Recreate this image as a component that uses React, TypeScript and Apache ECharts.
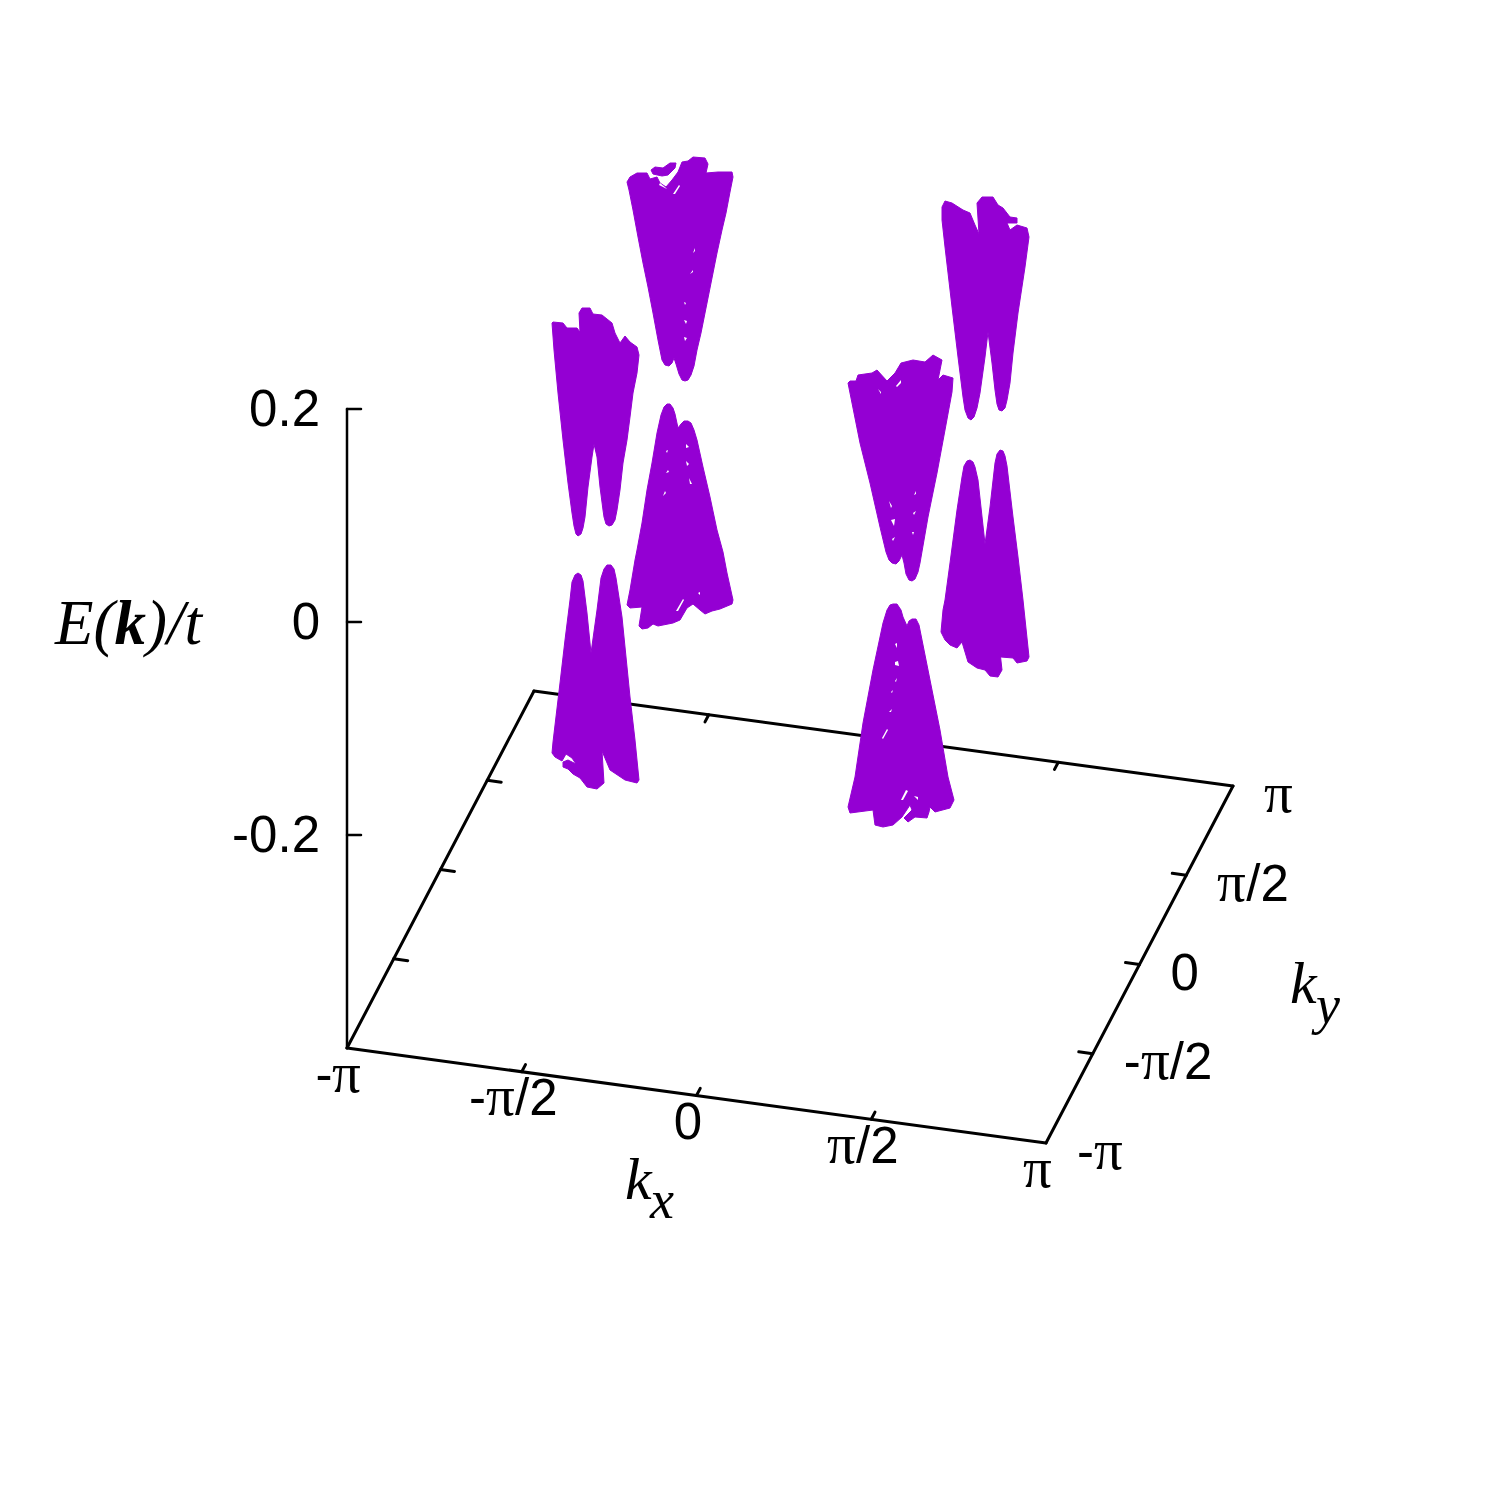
import React, { useEffect, useRef } from "react";
import * as echarts from "echarts";

type P = number[];
const PI = Math.PI;
const VIOLET = "#9400D3";

// Axis ticks
const kxTicks = [-PI, -PI / 2, 0, PI / 2, PI];
const kxTickLabels = ["-π", "-π/2", "0", "π/2", "π"];
const kyTicks = [-PI, -PI / 2, 0, PI / 2, PI];
const kyTickLabels = ["-π", "-π/2", "0", "π/2", "π"];
const eTicks = [-0.2, 0, 0.2];
const eTickLabels = ["-0.2", "0", "0.2"];
const eBase = -0.4;

// Silhouettes of the projected energy bands (projected plane units)
const coneAUpper: P[] = [[627,182],[630,177],[637,173],[647,173],[650,179],[657,177],[660,183],[666,187],[672,180],[678,172],[682,162],[688,161],[693,157],[705,158],[708,164],[706,173],[718,172],[732,172],[733,177],[730,192],[726,213],[722,230],[717,253],[713,273],[707,303],[701,333],[697,350],[694,366],[691,375],[688,380],[685,381],[682,380],[679,374],[676,364],[674,358],[672,363],[669,366],[665,365],[662,360],[660,350],[658,340],[653,313],[648,287],[643,263],[638,237],[633,210],[629,190]];
const coneAHook: P[] = [[651,170],[655,167],[663,168],[670,163],[676,163],[675,168],[668,175],[662,176],[653,174]];
const coneALower: P[] = [[637,550],[642,523],[647,490],[652,463],[657,433],[661,415],[664,407],[667,404],[670,404],[673,408],[675,414],[678,428],[681,424],[684,421],[688,421],[691,423],[694,430],[697,440],[703,467],[710,497],[717,530],[723,552],[727,573],[733,600],[732,604],[720,609],[712,611],[705,614],[700,610],[693,604],[687,608],[680,620],[673,623],[658,626],[653,624],[648,628],[642,629],[639,626],[642,607],[630,608],[627,605],[630,590],[635,560]];
const coneBUpper: P[] = [[552,323],[553,322],[563,323],[567,328],[577,328],[580,332],[579,313],[582,308],[590,308],[593,314],[602,315],[612,323],[615,333],[620,343],[625,336],[630,342],[637,347],[639,355],[637,373],[633,393],[630,417],[627,440],[623,463],[620,490],[617,510],[615,520],[612,525],[609,526],[606,524],[604,517],[603,510],[600,487],[597,457],[594,444],[592,457],[588,487],[585,517],[583,528],[581,534],[578,536],[576,534],[574,526],[572,513],[568,483],[563,440],[558,393],[554,350]];
const coneBLower: P[] = [[552,753],[553,742],[560,683],[565,640],[570,600],[572,582],[575,575],[578,573],[581,575],[583,581],[587,613],[591,653],[597,610],[601,578],[604,569],[607,565],[611,565],[614,569],[616,578],[622,617],[630,697],[635,740],[639,780],[637,783],[625,780],[610,770],[602,751],[604,783],[597,789],[587,787],[580,778],[573,774],[568,769],[563,767],[563,762],[568,760],[576,764],[572,758],[566,754],[562,761],[555,757]];
const coneCUpper: P[] = [[942,207],[945,201],[952,203],[963,210],[970,213],[975,225],[979,234],[977,203],[982,197],[993,197],[998,205],[1003,208],[1010,217],[1017,218],[1017,223],[1007,223],[1010,230],[1017,225],[1027,228],[1029,237],[1025,267],[1018,313],[1013,353],[1010,383],[1007,400],[1005,408],[1002,411],[999,410],[997,404],[995,390],[992,363],[988,332],[985,357],[980,393],[977,408],[974,417],[971,420],[968,418],[965,410],[963,397],[958,357],[952,307],[945,247],[942,220]];
const coneCLower: P[] = [[945,600],[950,563],[957,510],[962,477],[964,466],[967,461],[970,460],[973,462],[975,467],[978,480],[985,544],[990,507],[995,463],[997,454],[1000,450],[1003,451],[1005,456],[1007,466],[1013,517],[1018,557],[1023,600],[1029,657],[1027,661],[1017,663],[1013,658],[1001,657],[1000,652],[1002,670],[998,677],[990,676],[985,670],[977,668],[968,662],[962,642],[957,648],[950,645],[945,640],[941,632],[943,610]];
const coneDUpper: P[] = [[848,383],[850,381],[856,381],[858,375],[872,373],[877,370],[887,381],[895,373],[901,363],[913,360],[925,362],[933,355],[942,360],[938,380],[943,375],[953,378],[952,392],[945,430],[937,473],[928,517],[920,563],[918,572],[915,579],[912,581],[909,580],[906,574],[904,563],[902,555],[899,561],[896,564],[892,563],[889,560],[886,552],[880,527],[870,483],[860,443],[852,403]];
const coneDLower: P[] = [[848,807],[855,777],[863,723],[873,670],[883,623],[887,610],[890,605],[893,604],[897,604],[901,610],[903,617],[907,626],[909,621],[912,619],[916,619],[919,625],[921,635],[928,670],[940,730],[948,777],[954,800],[950,808],[935,812],[930,807],[929,812],[927,818],[915,817],[908,822],[904,818],[912,810],[910,805],[902,817],[893,825],[883,827],[875,825],[873,810],[850,813]];
const cones: P[][] = [coneAUpper, coneAHook, coneALower, coneBUpper, coneBLower, coneCUpper, coneCLower, coneDUpper, coneDLower];

// Small gaps between the sampled points
const gaps: P[][] = [
  [[673,194],[679,185],[680,186],[675,194]],[[660,183],[666,188],[667,189],[659,185]],
  [[684,320],[687,321],[686,324]],[[684,337],[687,338],[685,341]],[[684,302],[686,303],[685,305]],[[690,274],[693,270],[693,272]],[[693,253],[695,248],[695,251]],
  [[676,611],[683,599],[684,600],[678,611]],[[698,593],[700,592],[700,595]],[[686,444],[689,447],[686,448]],[[686,461],[689,464],[687,466]],[[689,478],[692,484],[690,484]],[[666,473],[668,470],[669,472]],[[666,451],[668,450],[667,453]],[[663,496],[665,491],[666,493]],
  [[882,738],[887,729],[888,730],[883,739]],[[901,800],[906,790],[908,791],[903,800]],[[895,662],[898,661],[899,666],[895,665]],[[895,644],[897,643],[897,648]],[[895,681],[897,678],[896,682]],[[889,712],[892,709],[891,712]],[[891,692],[893,690],[892,693]],[[914,796],[918,797],[918,800]],
  [[896,386],[901,380],[901,383],[897,387]],[[878,389],[881,392],[881,394]],[[889,501],[892,506],[891,508]],[[891,520],[895,519],[894,526]],[[913,513],[916,511],[914,515]],[[914,495],[916,491],[916,494]],[[892,539],[895,537],[893,541]],[[912,532],[914,532],[913,535]],
];

const project = (kx: number, ky: number, e: number): P => {
  const u = (kx + PI) / (2 * PI);
  const v = (ky + PI) / (2 * PI);
  return [347 + 699 * u + 187 * v, 1048 + 95 * u - 357 * v - (e - eBase) * 1065];
};

const buildSegments = (): number[][] => {
  const segs: number[][] = [];
  const add = (a: P, b: P) => segs.push([...a, ...b]);
  add(project(-PI, -PI, eBase), project(PI, -PI, eBase));
  add(project(PI, -PI, eBase), project(PI, PI, eBase));
  add(project(PI, PI, eBase), project(-PI, PI, eBase));
  add(project(-PI, PI, eBase), project(-PI, -PI, eBase));
  const tk = 0.04 * PI;
  kxTicks.slice(1, -1).forEach((k) => {
    add(project(k, -PI, eBase), project(k, -PI + tk, eBase));
    add(project(k, PI, eBase), project(k, PI - tk, eBase));
  });
  kyTicks.slice(1, -1).forEach((k) => {
    add(project(-PI, k, eBase), project(-PI + tk, k, eBase));
    add(project(PI, k, eBase), project(PI - tk, k, eBase));
  });
  return segs;
};

const buildVertical = (): number[][] => {
  const top = 0.2;
  const a = project(-PI, -PI, eBase);
  const b = project(-PI, -PI, top);
  const segs = [[...a, ...b]];
  eTicks.forEach((e) => {
    const p = project(-PI, -PI, e);
    segs.push([p[0], p[1], p[0] + 14, p[1]]);
  });
  return segs;
};

const SANS = 'PiGlyph, "Liberation Sans", Arial, sans-serif';
const SERIF = '"Liberation Serif", "Times New Roman", serif';
const TICK_FONT = `51px ${SANS}`;
const PI_FONT_CSS =
  '@font-face{font-family:PiGlyph;src:local("Liberation Serif");unicode-range:U+03C0;size-adjust:112%;}';

const App = () => {
  const ref = useRef<HTMLDivElement>(null);
  useEffect(() => {
    const chart = echarts.init(ref.current!, undefined, { renderer: "svg" });

    const segSeries = (data: number[][], lineWidth: number) => ({
      type: "custom",
      silent: true,
      clip: false,
      encode: { x: 0, y: 1 },
      data,
      renderItem: (_: any, api: any) => {
        const a = api.coord([api.value(0), api.value(1)]);
        const b = api.coord([api.value(2), api.value(3)]);
        return {
          type: "line",
          shape: { x1: a[0], y1: a[1], x2: b[0], y2: b[1] },
          style: { stroke: "#000", lineWidth, lineCap: "round" },
        };
      },
    });

    const polySeries = (polys: P[][], fill: string, stroke: boolean) => ({
      type: "custom",
      silent: true,
      clip: false,
      encode: { x: 0, y: 1 },
      data: polys.map((p, i) => [p[0][0], p[0][1], i]),
      renderItem: (_: any, api: any) => {
        const pts = polys[api.value(2)].map((p) => api.coord(p));
        return {
          type: "polygon",
          shape: { points: pts },
          style: stroke
            ? { fill, stroke: fill, lineWidth: 1, lineJoin: "round" }
            : { fill },
        };
      },
    });

    const labelSeries = (pos: P[], labels: string[], align: string) => ({
      type: "custom",
      silent: true,
      clip: false,
      encode: { x: 0, y: 1 },
      data: pos.map((p, i) => [p[0], p[1], i]),
      renderItem: (_: any, api: any) => {
        const c = api.coord([api.value(0), api.value(1)]);
        return {
          type: "text",
          x: c[0],
          y: c[1],
          style: {
            text: labels[api.value(2)],
            font: TICK_FONT,
            fill: "#000",
            align,
            verticalAlign: "middle",
          },
        };
      },
    });

    const kxPos = kxTicks.map((k) => {
      const p = project(k, -PI, eBase);
      return [p[0] - 8.5, p[1] + 26];
    });
    const kyPos = kyTicks.map((k) => {
      const p = project(PI, k, eBase);
      return [p[0] + 31, p[1] + 8];
    });
    const ePos = eTicks.map((e) => {
      const p = project(-PI, -PI, e);
      return [p[0] - 27, p[1] - 1];
    });

    const italic = (text: string, x: number, y: number, size: number) => ({
      type: "text",
      x,
      y,
      style: {
        text,
        fill: "#000",
        font: `italic ${size}px ${SERIF}`,
        verticalAlign: "bottom",
      },
    });

    chart.setOption({
      animation: false,
      backgroundColor: "#fff",
      grid: { left: 0, top: 0, right: 0, bottom: 0 },
      xAxis: { type: "value", min: 0, max: 1500, show: false },
      yAxis: { type: "value", min: 0, max: 1500, inverse: true, show: false },
      graphic: [
        {
          type: "text",
          x: 55,
          y: 591,
          style: {
            text: "{i|E(}{b|k}{i|)/t}",
            rich: {
              i: { font: `italic 63px ${SERIF}`, fill: "#000" },
              b: { font: `italic bold 63px ${SERIF}`, fill: "#000" },
            },
          },
        },
        italic("k", 625, 1209, 60),
        italic("x", 650, 1227, 54),
        italic("k", 1290, 1013, 60),
        italic("y", 1316, 1032, 54),
      ],
      series: [
        segSeries(buildSegments(), 3),
        segSeries(buildVertical(), 2.5),
        polySeries(cones, VIOLET, true),
        polySeries(gaps, "#fff", false),
        labelSeries(kxPos, kxTickLabels, "center"),
        labelSeries(kyPos, kyTickLabels, "left"),
        labelSeries(ePos, eTickLabels, "right"),
      ],
    });
    return () => chart.dispose();
  }, []);
  return (
    <>
      <style>{PI_FONT_CSS}</style>
      <div
        ref={ref}
        style={{ position: "absolute", left: 0, top: 0, width: 1500, height: 1500 }}
      />
    </>
  );
};

export default App;
